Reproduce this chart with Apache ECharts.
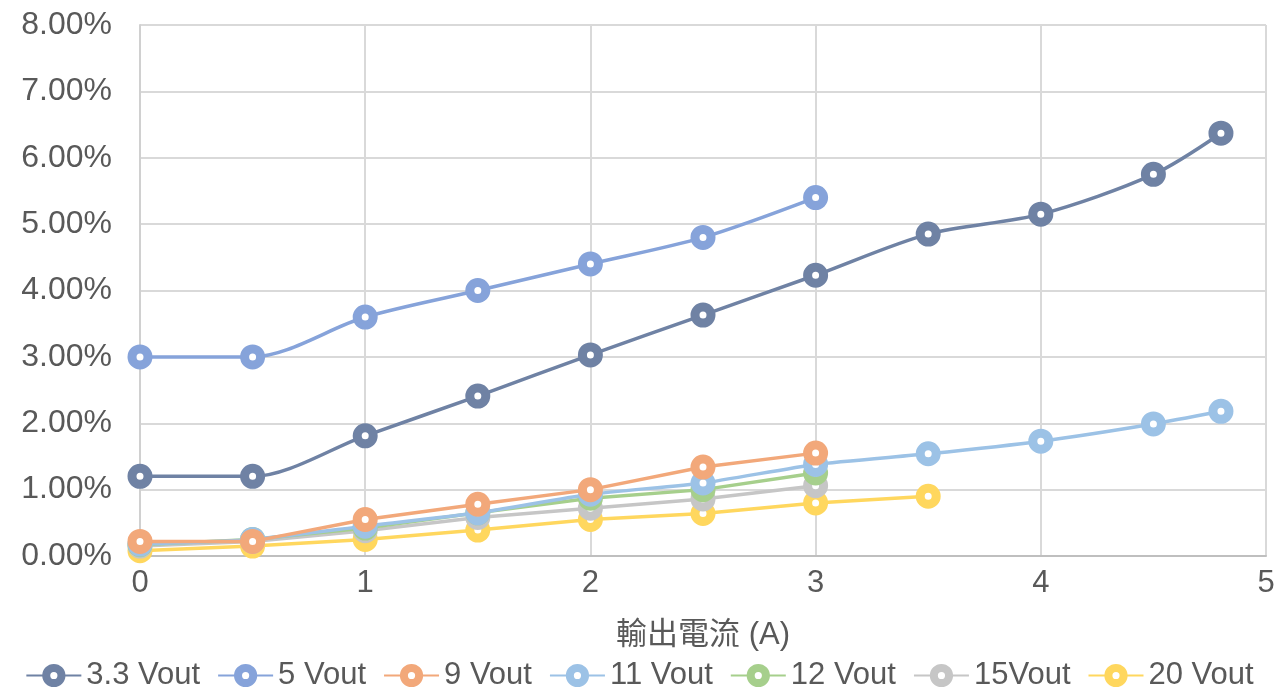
<!DOCTYPE html>
<html>
<head>
<meta charset="utf-8">
<script src="https://cdn.jsdelivr.net/npm/echarts@6/dist/echarts.min.js"></script>
<style>
  html, body { margin: 0; padding: 0; background: #fff; }
  #chart { width: 1279px; height: 691px; }
</style>
</head>
<body>
<div id="chart"></div>
<script>
// x values (output current, A)
var xLong = [0, 0.5, 1, 1.5, 2, 2.5, 3, 3.5, 4, 4.5, 4.8]
var xShort = [0, 0.5, 1, 1.5, 2, 2.5, 3]
var xMid = [0, 0.5, 1, 1.5, 2, 2.5, 3, 3.5]

// y values in percent
var v33 = [1.20, 1.20, 1.81, 2.41, 3.03, 3.63, 4.23, 4.85, 5.15, 5.75, 6.37]
var v5 = [3.00, 3.00, 3.60, 4.00, 4.40, 4.80, 5.40]
var v9 = [0.22, 0.22, 0.55, 0.78, 1.00, 1.34, 1.55]
var v11 = [0.18, 0.25, 0.45, 0.65, 0.93, 1.10, 1.38, 1.54, 1.73, 1.99, 2.18]
var v12 = [0.17, 0.25, 0.42, 0.65, 0.87, 1.00, 1.25]
var v15 = [0.15, 0.22, 0.38, 0.58, 0.72, 0.86, 1.06]
var v20 = [0.08, 0.15, 0.25, 0.39, 0.55, 0.64, 0.80, 0.90]

var names = ['3.3 Vout', '5 Vout', '9 Vout', '11 Vout', '12 Vout', '15Vout', '20 Vout']
var colors = ['#6f82a4', '#86a3da', '#f2a87a', '#9cc2e6', '#a6cf8c', '#c6c6c6', '#ffd75e']

var font = "'Liberation Sans', Arial, 'Noto Sans CJK TC', sans-serif"

function pairs (xs, ys) {
  var out = []
  for (var i = 0; i < ys.length; i++) out.push([xs[i], ys[i]])
  return out
}

function mkSeries (idx, xs, ys, smooth) {
  return {
    name: names[idx],
    type: 'line',
    data: pairs(xs, ys),
    smooth: smooth,
    symbol: 'circle',
    symbolSize: 16,
    z: 10 - idx,
    lineStyle: { color: colors[idx], width: 3.5 },
    itemStyle: { color: '#fff', borderColor: colors[idx], borderWidth: 9 }
  }
}

var chart = echarts.init(document.getElementById('chart'))
chart.setOption({
  animation: false,
  textStyle: { fontFamily: font },
  grid: { left: 140, right: 13, top: 25, bottom: 135, containLabel: false },
  xAxis: {
    type: 'value',
    min: 0,
    max: 5,
    interval: 1,
    name: '輸出電流 (A)',
    nameLocation: 'middle',
    nameGap: 64,
    nameTextStyle: { fontSize: 31, color: '#595959', fontFamily: font },
    axisLine: { show: true, lineStyle: { color: '#bfbfbf', width: 2 } },
    axisTick: { show: false },
    axisLabel: { fontSize: 31, color: '#595959', margin: 12 },
    splitLine: { show: true, lineStyle: { color: '#d9d9d9', width: 2 } }
  },
  yAxis: {
    type: 'value',
    min: 0,
    max: 8,
    interval: 1,
    axisLine: { show: true, lineStyle: { color: '#d0d0d0', width: 2 } },
    axisTick: { show: false },
    axisLabel: {
      fontSize: 32,
      color: '#595959',
      margin: 28,
      formatter: function (v) { return v.toFixed(2) + '%' }
    },
    splitLine: { show: true, lineStyle: { color: '#d9d9d9', width: 2 } }
  },
  legend: {
    top: 655,
    left: 'center',
    itemWidth: 55,
    itemHeight: 19,
    itemGap: 17,
    itemStyle: { borderWidth: 8 },
    textStyle: { fontSize: 31, color: '#595959', fontFamily: font },
    data: names
  },
  series: [
    mkSeries(0, xLong, v33, 0.3),
    mkSeries(1, xShort, v5, 0.3),
    mkSeries(2, xShort, v9, false),
    mkSeries(3, xLong, v11, 0.2),
    mkSeries(4, xShort, v12, false),
    mkSeries(5, xShort, v15, false),
    mkSeries(6, xMid, v20, false)
  ]
})
</script>
</body>
</html>
